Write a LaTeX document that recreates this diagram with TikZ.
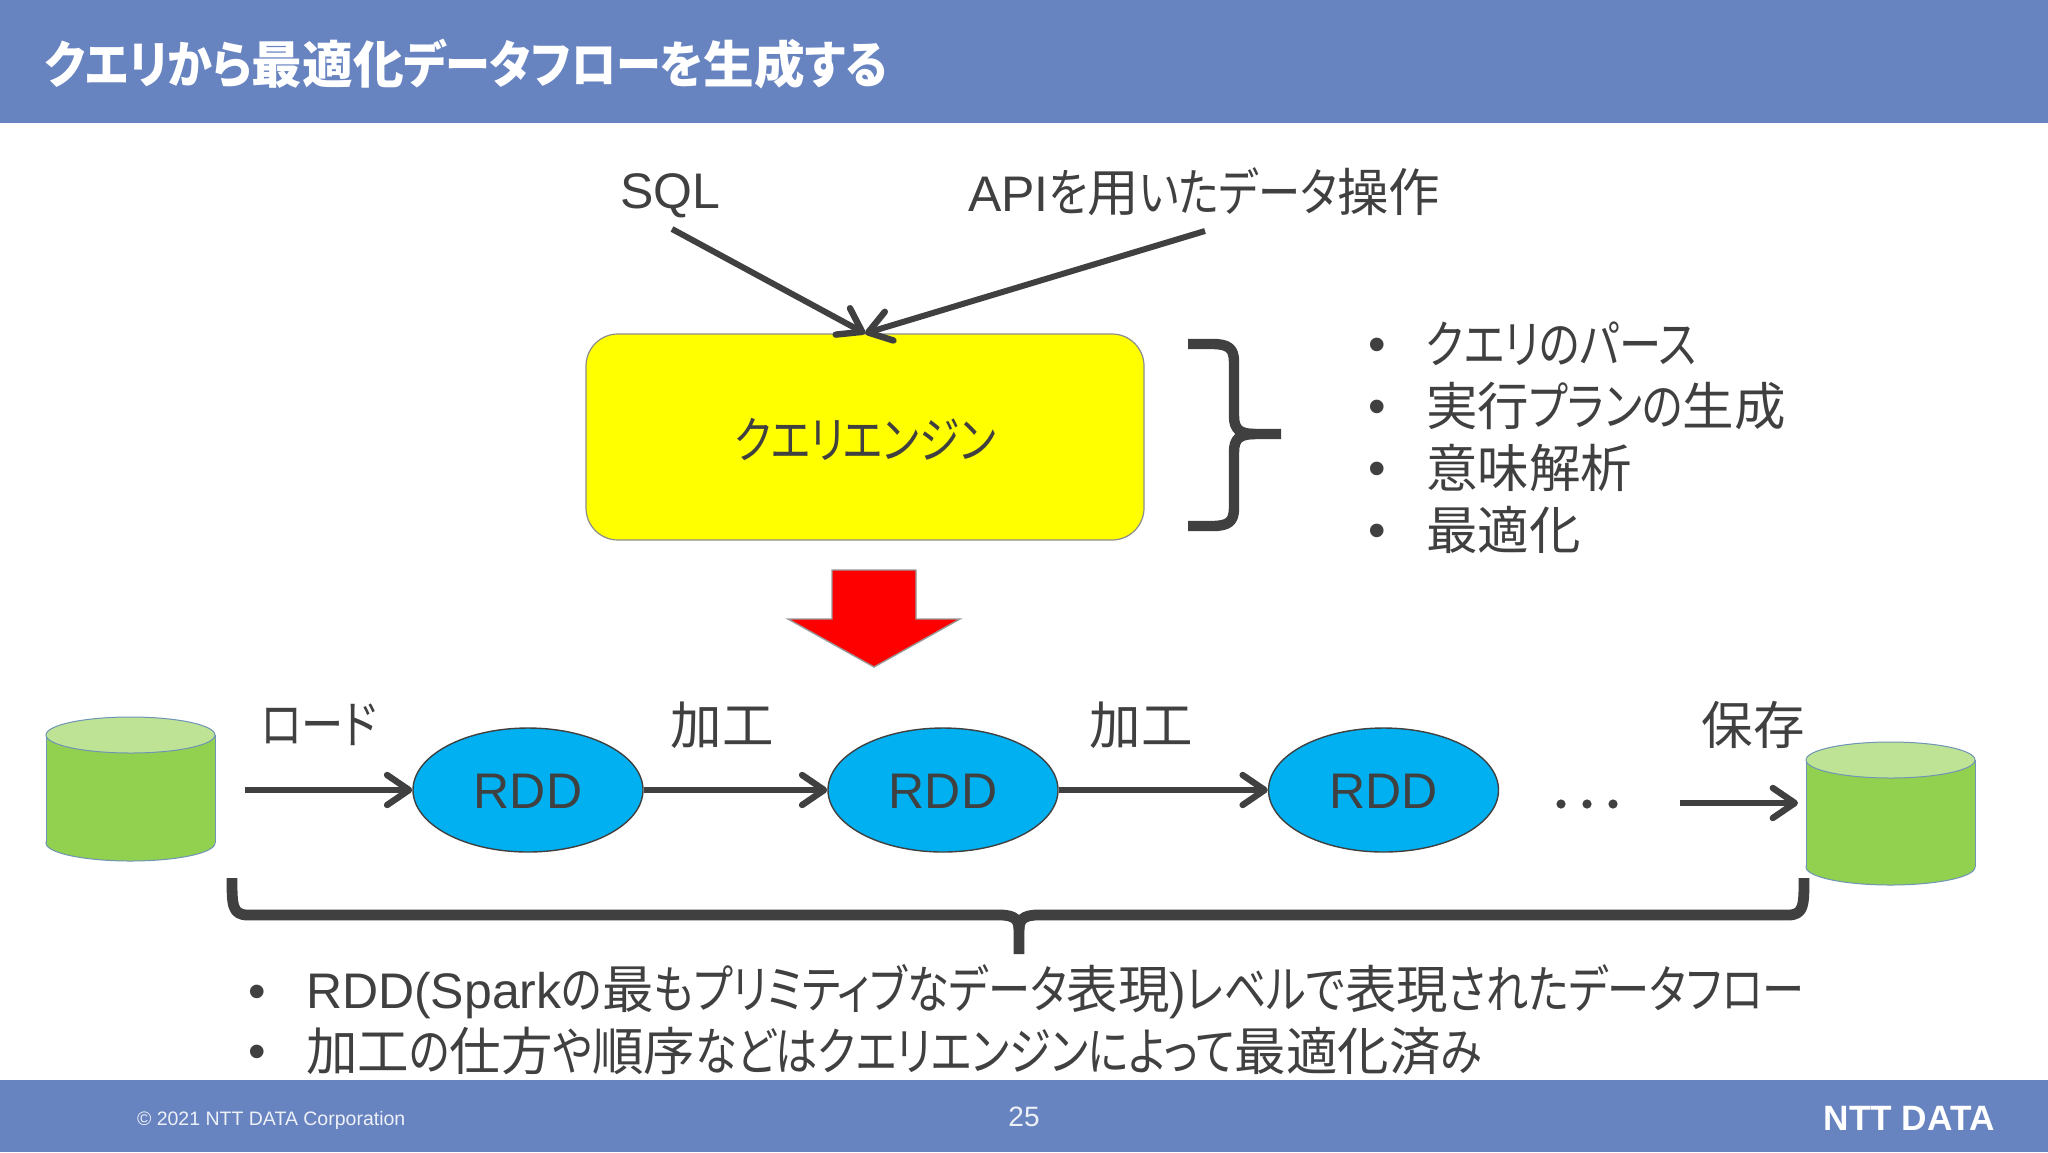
\documentclass[tikz,border=0pt]{standalone}
\usepackage{fontspec}
\usetikzlibrary{arrows.meta,shapes.geometric}
\setmainfont{Liberation Sans}
\newfontfamily\jpfont[RawFeature={+palt},Scale=1.03]{Noto Sans CJK JP}
\newfontfamily\knfont[RawFeature={+palt},Scale=1.03,FakeStretch=0.82]{Noto Sans CJK JP}
\newfontfamily\kbfont[RawFeature={+palt},Scale=1.03,FakeStretch=0.89]{Noto Sans CJK JP}
\newcommand\J[1]{{\jpfont #1}}
\newcommand\K[1]{{\knfont #1}}
\newcommand\B[1]{{\kbfont #1}}
\definecolor{bandblue}{HTML}{6783C0}
\definecolor{ink}{HTML}{404040}
\definecolor{cylgreen}{HTML}{92D050}
\definecolor{cyltop}{HTML}{BEE395}
\definecolor{cyledge}{HTML}{6F94B5}
\definecolor{rddblue}{HTML}{00B0F0}
\definecolor{engineyellow}{HTML}{FFFF00}
\definecolor{bigred}{HTML}{FF0000}
\newcommand\fs[1]{\fontsize{#1}{#1}\selectfont}
% centre x, left, right, top, bottom
\newcommand\cyl[5]{%
  \draw[cyledge,line width=0.5pt,fill=cylgreen] (#1,#5-18) ellipse[x radius=42.25pt,y radius=9pt];
  \fill[cylgreen] (#2,#4+18) rectangle (#3,#5-18);
  \draw[cyledge,line width=0.5pt] (#2,#4+18) -- (#2,#5-18) (#3,#4+18) -- (#3,#5-18);
  \draw[cyledge,line width=0.5pt,fill=cyltop] (#1,#4+18) ellipse[x radius=42.25pt,y radius=9pt];
}
\tikzset{
  x=0.5pt,y=-0.5pt,
  txt/.style={inner sep=0pt,outer sep=0pt,text=ink,font=\fs{25pt}},
  flow/.style={draw=ink,line width=3.4pt,-{Straight Barb[length=11pt,width=15pt,line width=3.2pt,round]}},
  rdd/.style={ellipse,draw=ink,line width=0.7pt,fill=rddblue,minimum width=115pt,minimum height=62pt,inner sep=0pt,text=ink,font=\fs{25pt},text height=18.5pt,text depth=0pt},
  dbbox/.style={inner sep=0pt,outer sep=0pt,minimum width=84.5pt,minimum height=72pt},
  bracepath/.style={draw=ink,line width=5.2pt,line join=round},
}
\begin{document}
\begin{tikzpicture}
\useasboundingbox (0,0) rectangle (2048,1152);
\fill[white] (0,0) rectangle (2048,1152);
\fill[bandblue] (0,0) rectangle (2048,123);
\fill[bandblue] (0,1080) rectangle (2048,1152);
\node[txt,anchor=west,text=white,font=\fs{24.6pt}\bfseries] (title) at (45,64) {\B{クエリから}\J{最適化}\B{データフローを}\J{生成}\B{する}};

\node[txt,anchor=west] (sql) at (620,196) {SQL};
\node[txt,anchor=west] (api) at (968,192) {API\K{を}\J{用}\K{いたデータ}\J{操作}};
\coordinate (sqlout) at (672,229);
\coordinate (apiout) at (1205,231);

\node[draw=black!45,line width=0.6pt,fill=engineyellow,rounded corners=16pt,minimum width=279pt,minimum height=103pt,inner sep=0pt,text=ink,font=\fs{24.2pt},text height=21.4pt,text depth=0pt] (engine) at (865,437) {\K{クエリエンジン}};
\draw[flow,line width=3pt] (sqlout) -- (engine.north);
\draw[flow,line width=3pt] (apiout) -- (engine.north);

\draw[bracepath] (1188,344) -- (1212,344) .. controls (1228,344) and (1234,348) .. (1234,362) -- (1234,416) .. controls (1234,430) and (1240,434) .. (1256,434) -- (1281,434);
\draw[bracepath] (1256,434) .. controls (1240,434) and (1234,438) .. (1234,452) -- (1234,508) .. controls (1234,522) and (1228,526) .. (1212,526) -- (1188,526);

\node[txt,anchor=west] (b1) at (1426,344) {\K{クエリのパース}};
\node[txt,anchor=west] (b2) at (1426,406) {\J{実行}\K{プランの}\J{生成}};
\node[txt,anchor=west] (b3) at (1426,468) {\J{意味解析}};
\node[txt,anchor=west] (b4) at (1426,530) {\J{最適化}};
\foreach \yy in {350,412,474,536} \node[txt] at (1377,\yy) {•};

\draw[draw=black!40,line width=0.7pt,fill=bigred] (832,570) -- (916,570) -- (916,619) -- (960,619) -- (874,667) -- (788,619) -- (832,619) -- cycle;

\cyl{130.5}{46}{215}{717}{861}
\cyl{1890.5}{1806}{1975}{742}{885}
\node[dbbox] (src) at (130.5,789) {};
\node[dbbox] (dst) at (1890.5,813.5) {};
\node[rdd] (r1) at (528,790) {RDD};
\node[rdd] (r2) at (943,790) {RDD};
\node[rdd] (r3) at (1383.5,790) {RDD};
\coordinate (loadin) at (245,790);
\coordinate (savein) at (1680,803);
\draw[flow] (loadin) -- (r1.west);
\draw[flow] (r1.east) -- (r2.west);
\draw[flow] (r2.east) -- (r3.west);
\draw[flow,shorten >=4pt] (savein) -- (savein -| dst.west);
\foreach \xx in {1561,1587,1613} \fill[ink] (\xx,804) circle (2.3pt);

\node[txt] (load) at (319,725) {\K{ロード}};
\node[txt] (k1) at (722,725) {\J{加工}};
\node[txt] (k2) at (1141,725) {\J{加工}};
\node[txt] (save) at (1753,725) {\J{保存}};

\draw[bracepath,line width=5.4pt] (232,878) .. controls (232,905) and (232,915) .. (248,915) -- (1000,915) .. controls (1015,915) and (1019,920) .. (1019,930) -- (1019,954);
\draw[bracepath,line width=5.4pt] (1804,878) .. controls (1804,905) and (1804,915) .. (1788,915) -- (1038,915) .. controls (1023,915) and (1019,920) .. (1019,930);

\node[txt] at (257,997) {•};
\node[txt] at (257,1057) {•};
\node[txt,anchor=west] (l1) at (306,992) {RDD(Spark\K{の}\J{最}\K{もプリミティブなデータ}\J{表現})\K{レベルで}\J{表現}\K{されたデータフロー}};
\node[txt,anchor=west] (l2) at (306,1051) {\J{加工}\K{の}\J{仕方}\K{や}\J{順序}\K{などはクエリエンジンによって}\J{最適化済}\K{み}};

\node[txt,anchor=west,text=white!88!bandblue,font=\fs{9.75pt}] (copy) at (137,1120) {© 2021 NTT DATA Corporation};
\node[txt,text=white!88!bandblue,font=\fs{14pt}] (page) at (1024,1117) {25};
\node[txt,text=white,font=\fs{17.6pt}\bfseries] (logo) at (1909,1118) {NTT DATA};
\end{tikzpicture}
\end{document}
